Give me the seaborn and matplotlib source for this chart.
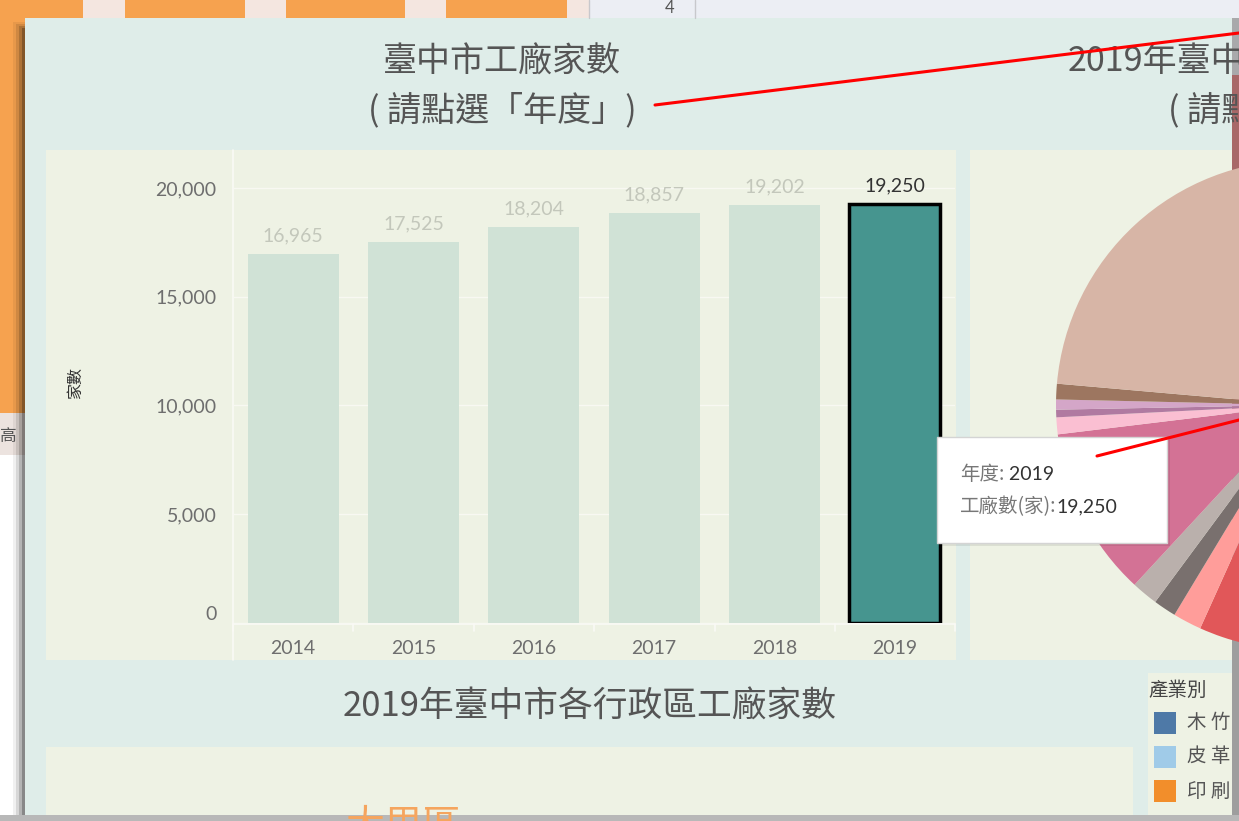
import seaborn as sns
import pandas as pd
import matplotlib.pyplot as plt
from matplotlib.patches import Rectangle
from matplotlib.ticker import FuncFormatter

# 資料
years = ['2014', '2015', '2016', '2017', '2018', '2019']
factories = [16965, 17525, 18204, 18857, 19202, 19250]
selected = '2019'

# 2019 產業別 (Tableau 20 順序, 由 12 點鐘方向順時針)
industry_colors = ['#4E79A7', '#A0CBE8', '#F28E2B', '#FFBE7D', '#59A14F', '#8CD17D',
                   '#B6992D', '#F1CE63', '#499894', '#86BCB6', '#E15759', '#FF9D9A',
                   '#79706E', '#BAB0AC', '#D37295', '#FABFD2', '#B07AA1', '#D4A6C8',
                   '#9D7660', '#D7B5A6']
industry_counts = [210, 95, 560, 450, 1350, 380, 290, 2480, 3600, 909,
                   600, 364, 289, 337, 2155, 214, 96, 128, 198, 4545]
legend_names = ['木 竹', '皮 革', '印 刷']

sns.set_theme(style='white')
plt.rcParams['font.family'] = ['Noto Sans CJK TC', 'DejaVu Sans']

W, H = 1239, 821
fig = plt.figure(figsize=(W / 100, H / 100), dpi=100)
fig.patch.set_facecolor('white')

# 背景 (像素座標)
bg = fig.add_axes([0, 0, 1, 1], zorder=0)
bg.set_xlim(0, W)
bg.set_ylim(H, 0)
bg.axis('off')

def box(ax, x0, y0, x1, y1, color, **kw):
    r = Rectangle((x0, y0), x1 - x0, y1 - y0, facecolor=color, edgecolor='none', **kw)
    ax.add_patch(r)
    return r

# 後方網頁
box(bg, 0, 0, 25, 413, '#F6A24F')
for x0, x1 in [(0, 83), (125, 245), (286, 405), (446, 567)]:
    box(bg, x0, 0, x1, 18, '#F6A24F')
for x0, x1 in [(83, 125), (245, 286), (405, 446), (567, 589)]:
    box(bg, x0, 0, x1, 18, '#F4E6E0')
box(bg, 589, 0, W, 18, '#ECEEF4')
bg.plot([589, 589], [0, 18], color='#C8C8CC', lw=1)
bg.plot([695, 695], [0, 18], color='#C8C8CC', lw=1)
bg.text(670, 16, '4', fontsize=12, color='#555', ha='center', va='bottom', family='Lato')
box(bg, 0, 413, 25, 455, '#ECE3DF')
bg.text(0, 436, '高', fontsize=12, color='#555', va='center')
box(bg, 1232, 18, W, 75, '#A9A9AB')
box(bg, 1232, 75, W, 410, '#A86868')
box(bg, 1232, 410, W, 460, '#B9B1B1')
box(bg, 1232, 460, W, H, '#9E9E9E')
box(bg, 0, 815, W, H, '#B8B8B8')
for i, a in enumerate([0.06, 0.1, 0.16, 0.24]):
    box(bg, 13 + i * 3, 22 + i * 2, 25, 815, '#000000', alpha=a)

# 儀表板
board = box(bg, 25, 18, 1232, 815, '#DFEDE9')
box(bg, 46, 150, 956, 660, '#EEF2E4')
legend_panel = box(bg, 1148, 673, 1232, 815, '#EEF2E4')
bottom_panel = box(bg, 46, 747, 1133, 815, '#EEF2E4')
bg.plot([233, 233], [150, 660], color='#FAFAF5', lw=1.2)
bg.plot([233, 955], [624, 624], color='#FAFAF5', lw=1.2)
for k in range(7):
    xb = 233 + k * 120.4
    bg.plot([xb, xb], [624, 631], color='#FAFAF5', lw=1.2)

title_kw = dict(fontsize=24.5, color='#555555', va='center')
bg.text(502, 62, '臺中市工廠家數', ha='center', **title_kw)
bg.text(502, 110, '( 請點選「年度」)', ha='center', **title_kw)
for yy, s, x0 in [(62, '2019年臺中市各產業工廠家數', 1068), (110, '( 請點選「產業別」)', 1168)]:
    t = bg.text(x0, yy, s, ha='left', **title_kw)
    t.set_clip_path(board)
bg.text(590, 707, '2019年臺中市各行政區工廠家數', ha='center', fontsize=25, color='#555555', va='center')
t = bg.text(404, 806, '大里區', fontsize=28, color='#F5A55E', ha='center', va='top')
t.set_clip_path(bottom_panel)

# 圖例
bg.text(1148, 690, '產業別', fontsize=14, color='#444444', ha='left', va='center')
for i, (name, c) in enumerate(zip(legend_names, industry_colors)):
    yc = 723 + i * 34
    box(bg, 1154, yc - 11, 1176, yc + 11, c)
    t = bg.text(1187, yc, name, fontsize=14, color='#555555', ha='left', va='center')
    t.set_clip_path(legend_panel)

# 長條圖
ax = fig.add_axes([233 / W, (H - 623) / H, 722 / W, 473 / H], zorder=1)
ax.patch.set_alpha(0)
df = pd.DataFrame({'年度': years, '家數': factories})
palette = {y: ('#46958F' if y == selected else '#D0E2D6') for y in years}
sns.barplot(data=df, x='年度', y='家數', hue='年度', palette=palette, saturation=1,
            width=0.755, legend=False, ax=ax, linewidth=0)
for cont, y in zip(ax.containers, years):
    if y == selected:
        for p in cont.patches:
            p.set_edgecolor('black')
            p.set_linewidth(2.5)
    ax.bar_label(cont, fmt='{:,.0f}', padding=7, fontsize=14, family='Lato',
                 color='#333333' if y == selected else '#C3C7BB')
ax.set_xlim(-0.5, 5.5)
ax.set_ylim(0, 21747)
ax.set_yticks([0, 5000, 10000, 15000, 20000])
ax.yaxis.set_major_formatter(FuncFormatter(lambda v, p: f'{v:,.0f}'))
ax.grid(axis='y', color='#F8F8F2', lw=1)
ax.set_axisbelow(True)
for s in ax.spines.values():
    s.set_visible(False)
ax.tick_params(axis='y', length=8, color='#F8F8F2', pad=4, labelsize=14, labelcolor='#6E6E6E')
ax.tick_params(axis='x', length=0, pad=12, labelsize=14, labelcolor='#6E6E6E')
for lab in ax.get_xticklabels() + ax.get_yticklabels():
    lab.set_family('Lato')
ax.get_yticklabels()[0].set_verticalalignment('bottom')
ax.set_xlabel('')
ax.set_ylabel('家數', fontsize=11.5, color='#333333')
ax.yaxis.set_label_coords((84 - 233) / 722, (623 - 383) / 473)

# 圓餅圖 (右側被裁切)
pax = fig.add_axes([970 / W, (H - 660) / H, 262 / W, 510 / H], zorder=1)
pax.set_facecolor('#EEF2E4')
pax.pie(industry_counts, colors=industry_colors, startangle=90, counterclock=False,
        center=(1301, H - 405), radius=245, frame=True,
        wedgeprops=dict(linewidth=0))
pax.set_aspect('auto')
pax.set_xlim(970, 1232)
pax.set_ylim(H - 660, H - 150)
pax.set_xticks([])
pax.set_yticks([])
for s in pax.spines.values():
    s.set_visible(False)

# 提示框與紅線
top = fig.add_axes([0, 0, 1, 1], zorder=3)
top.set_xlim(0, W)
top.set_ylim(H, 0)
top.axis('off')
box(top, 940, 440, 1170, 546, '#000000', alpha=0.08)
top.add_patch(Rectangle((937, 437), 230, 106, facecolor='white', edgecolor='#D4D4D4', lw=1))
k1 = top.text(960, 475, '年度:', fontsize=14, color='#777777', va='center')
top.annotate(' 2019', xy=(1, 0.5), xycoords=k1, fontsize=14, color='#333333',
             va='center', family='Lato')
k2 = top.text(960, 507, '工廠數(家):', fontsize=14, color='#777777', va='center')
top.annotate('19,250', xy=(1, 0.5), xycoords=k2, fontsize=14, color='#333333',
             va='center', family='Lato')
top.plot([655, 1239], [105, 33], color='#FF0000', lw=2.2)
top.plot([1097, 1239], [456, 420], color='#FF0000', lw=2.2)

fig.savefig('out.png', dpi=100)
